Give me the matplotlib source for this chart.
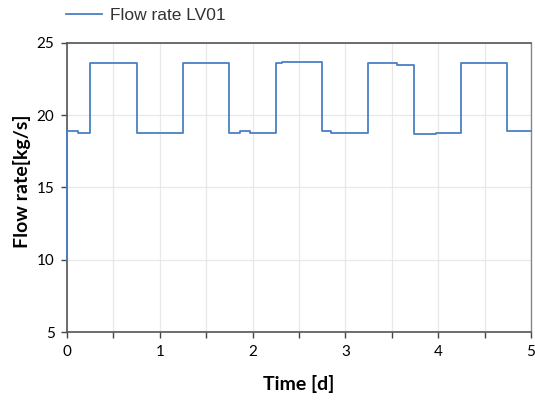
import matplotlib
matplotlib.use("Agg")
import matplotlib.pyplot as plt
from matplotlib import font_manager as fm

times = [0, 0.001, 0.12, 0.248, 0.75, 1.247, 1.75, 1.86, 1.97, 2.25, 2.32, 2.745, 2.85, 3.24, 3.56, 3.74, 3.98, 4.245, 4.74, 5.0]
flow = [10, 18.9, 18.8, 23.6, 18.8, 23.6, 18.8, 18.9, 18.8, 23.6, 23.67, 18.9, 18.8, 23.6, 23.5, 18.7, 18.8, 23.65, 18.9, 18.9]
x_ticks_major = [0, 1, 2, 3, 4, 5]
y_ticks = [5, 10, 15, 20, 25]

names = {f.name for f in fm.fontManager.ttflist}
narrow = 'Liberation Sans Narrow' if 'Liberation Sans Narrow' in names else 'Liberation Sans'

fig = plt.figure(figsize=(5.35, 4.05), dpi=100)
ax = fig.add_axes([67/535, 1-332/405, (531-67)/535, (332-43)/405])

line_color = '#4a80c4'
ax.plot(times, flow, drawstyle='steps-post', color=line_color, lw=1.3, label='Flow rate LV01',
        zorder=5, clip_on=False)

ax.set_xlim(0, 5)
ax.set_ylim(5, 25)
ax.set_xticks([i * 0.5 for i in range(11)])
ax.set_xticklabels([str(int(v)) if v in x_ticks_major else '' for v in [i * 0.5 for i in range(11)]],
                   family='Lato', fontsize=11)
ax.set_yticks(y_ticks)
ax.set_yticklabels([str(v) for v in y_ticks], family='Lato', fontsize=11)
ax.grid(True, color='#e8e8e8', lw=0.9)
ax.set_axisbelow(True)
ax.tick_params(direction='out', length=4, width=1, color='#444444', pad=5)
for s in ['left', 'bottom', 'top']:
    ax.spines[s].set_color('#555555')
    ax.spines[s].set_linewidth(1.2)
ax.spines['right'].set_color('#888888')
ax.spines['right'].set_linewidth(1.0)

ax.set_xlabel('Time [d]', family='Lato', fontweight='bold', fontsize=14, labelpad=12)
fig.text(22/535, 1-181/405, 'Flow rate[kg/s]', rotation=90, ha='center', va='center',
         family='Lato', fontweight='bold', fontsize=14)

leg = fig.legend(handles=ax.get_lines(), loc='center left', bbox_to_anchor=(66/535, 1-15/405),
                 frameon=False, prop={'family': narrow, 'size': 12.5}, handlelength=2.1,
                 handletextpad=0.45, borderaxespad=0, borderpad=0)
leg.get_texts()[0].set_color('#333333')

fig.savefig('out.png', dpi=100)
